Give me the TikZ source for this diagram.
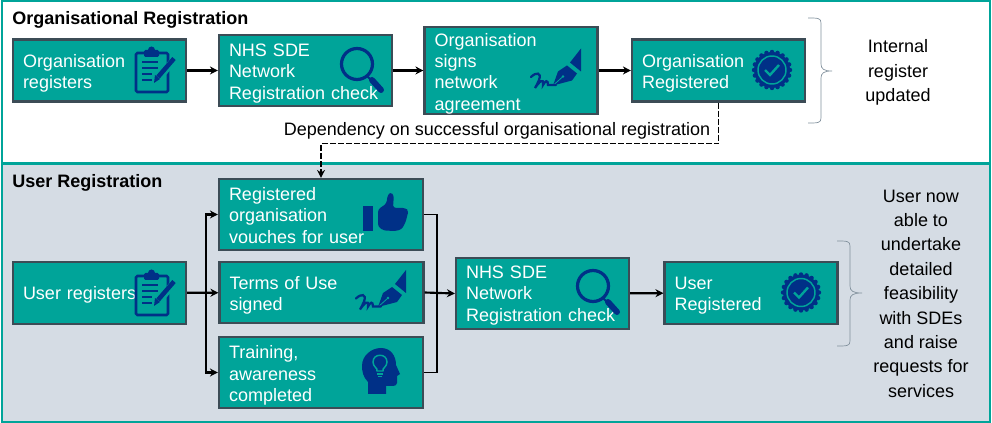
\documentclass[tikz,border=0pt]{standalone}
\usepackage{fontspec}
\setmainfont{Liberation Sans}
\usetikzlibrary{shapes,arrows,arrows.meta,positioning,calc}
\definecolor{tealcolor}{RGB}{0, 164, 153}
\definecolor{edgecolor}{RGB}{60, 76, 86}
\definecolor{iconcolor}{RGB}{0, 48, 135}
\definecolor{panelcolor}{RGB}{213, 220, 228}
\definecolor{bracecolor}{RGB}{130, 145, 157}

\tikzset{
    textdrop/.initial=4.5pt,
    clipicon/.pic={
        \draw[iconcolor, line width=1.9pt, rounded corners=1pt] (-19,-17) rectangle (13,22);
        \fill[iconcolor, rounded corners=1pt] (-11,-20) rectangle (4,-13);
        \fill[iconcolor] (-3.5,-20) circle (3.5);
        \foreach \liney/\linew in {-8/10, -2/10, 4/4, 10/4} {
            \draw[iconcolor, line width=1pt] (-13,\liney) -- ++(\linew+6,0);
        }
        \draw[tealcolor, line width=5.5pt] (1,11) -- (20,-11);
        \draw[iconcolor, line width=3.4pt] (3,7) -- (19,-11.5);
        \fill[iconcolor] (-1,13) -- (0,5) -- (5,9) -- cycle;
    },
    lensicon/.pic={
        \draw[iconcolor, line width=2.4pt] (-5,-6) circle (15.5);
        \draw[iconcolor, line width=1.5pt] (5,6) -- (10,11);
        \draw[iconcolor, line width=4.5pt, line cap=round] (10,10) -- (19,20);
    },
    penicon/.pic={
        \fill[iconcolor] (25,-21.5) -- (14,-7.5) -- (25,1.5) -- cycle;
        \fill[iconcolor] (11,-4.5) -- (21,3.5) -- (16,10.5) -- (-3,15.5) -- (2,1.5) -- cycle;
        \draw[tealcolor, line width=0.6pt] (-3,15.5) -- (7,6.5);
        \fill[tealcolor] (7,6.5) circle (1.4);
        \draw[iconcolor, line width=1.7pt, line cap=round] (-25,7) .. controls (-20,2) and (-14,2) .. (-17,10)
            .. controls (-18,13) and (-20,16) .. (-21,18) .. controls (-17,12) and (-12,7) .. (-13,15)
            .. controls (-11,11) and (-8,9) .. (-8,15) -- (0,15);
    },
    sealicon/.pic={
        \fill[iconcolor] (0,0) circle (18);
        \foreach \toothangle in {0,18,...,342} {
            \fill[iconcolor] (\toothangle:18) circle (2.2);
        }
        \draw[tealcolor, line width=1.1pt] (0,0) circle (14);
        \draw[tealcolor, line width=1.8pt] (-7,0) -- (-2,5) -- (7,-5);
    },
    thumbicon/.pic={
        \fill[iconcolor] (-22.5,-6) rectangle (-12.5,18.5);
        \fill[iconcolor, rounded corners=2pt] (-7.5,-3) -- (1,-9) -- (2,-17) -- (5,-20.5) -- (8.5,-17) -- (7.5,-7) -- (8,-4.5)
            -- (20,-4.5) -- (23,-1.5) -- (21.5,4) -- (20,10) -- (16,17) -- (10,18.5) -- (-2,18) -- (-7.5,14) -- cycle;
    },
    headicon/.pic={
        \fill[iconcolor] (-13,23) -- (-13,11) .. controls (-18,6) and (-19,0) .. (-19,-5)
            .. controls (-19,-16) and (-9,-23) .. (0,-23) .. controls (10,-23) and (15,-15) .. (15,-6)
            -- (19,3) -- (16,5) -- (16,12) .. controls (16,14) and (14,15) .. (12,15) -- (5,15) -- (5,23) -- cycle;
        \draw[tealcolor, line width=1.1pt] (-4,0) .. controls (-3,-3) and (-8,-4) .. (-8,-9)
            .. controls (-8,-18) and (6,-18) .. (6,-9) .. controls (6,-4) and (1,-3) .. (2,0) -- cycle;
        \draw[tealcolor, line width=1pt] (-4,3) -- (2,3) (-3,5.5) -- (1,5.5);
    }
}

\begin{document}
\begin{tikzpicture}[
        x=0.75pt, y=-0.75pt,
        font=\fontsize{13.5}{16}\selectfont,
        stepbox/.style={rectangle, draw=edgecolor, line width=1.6pt, fill=tealcolor, text=white, align=left,
            inner xsep=7.5pt, inner ysep=0pt, text width=114.75pt, minimum height=#1*0.75pt,
            execute at end node={\endgraf\vspace*{-\pgfkeysvalueof{/tikz/textdrop}}}},
        widebox/.style={stepbox=#1, text width=138pt},
        orgpanel/.style={rectangle, draw=tealcolor, line width=1.5pt, minimum width=741pt},
        heading/.style={font=\fontsize{13.5}{16}\selectfont\bfseries, inner sep=0pt},
        note/.style={align=center, font=\fontsize{13.5}{18.3}\selectfont, inner sep=0pt},
        arrow/.style={-{Stealth[length=6pt,width=6pt]}, line width=1.6pt},
        joinline/.style={line width=1.1pt},
        dashedarrow/.style={-{Stealth[length=6pt,width=6pt]}, line width=1.3pt, dash pattern=on 4.5pt off 1.5pt},
        bracket/.style={draw=bracecolor, line width=0.5pt}
    ]
        \useasboundingbox (0,0) rectangle (992,423);

        % Panels
        \node[orgpanel, fill=white, minimum height=121.5pt] (toppanel) at (496,82) {};
        \node[orgpanel, fill=panelcolor, minimum height=193.5pt] (lowpanel) at (496,293) {};
        \node[heading, anchor=west] (toptitle) at (12,19.5) {Organisational Registration};
        \node[heading, anchor=west] (lowtitle) at (12,182.5) {User Registration};

        % Organisation row
        \node[stepbox=62] (orgreg) at (99.5,70.5) {Organisation\\registers};
        \node[stepbox=71] (orgcheck) at (305.5,70.5) {NHS SDE\\Network\\Registration check};
        \node[stepbox=87] (orgsign) at (511,70.5) {Organisation\\signs\\network\\agreement};
        \node[stepbox=62] (orgdone) at (718.5,70.5) {Organisation\\Registered};
        \draw[arrow] (orgreg) -- (orgcheck);
        \draw[arrow] (orgcheck) -- (orgsign);
        \draw[arrow] (orgsign) -- (orgdone);

        % User row
        \node[stepbox=62] (userreg) at (99.5,293) {User registers};
        \node[widebox=71, textdrop=1.5pt] (vouch) at (321,214.5) {Registered\\organisation\\vouches for user};
        \node[widebox=61] (terms) at (321.5,292.5) {Terms of Use\\signed};
        \node[widebox=71] (training) at (321,372.5) {Training,\\awareness\\completed};
        \node[stepbox=71, textdrop=3pt] (usercheck) at (542.5,293.5) {NHS SDE\\Network\\Registration check};
        \node[stepbox=62] (userdone) at (751,293) {User\\Registered};

        \coordinate (split) at (206,293);
        \coordinate (merge) at (437,293);
        \draw[arrow] (userreg) -- (terms);
        \draw[arrow] (split) |- (vouch.west);
        \draw[arrow] (split) |- (training.west);
        \draw[joinline] (vouch.east) -| (merge);
        \draw[joinline] (training.east) -| (merge);
        \draw[arrow] (terms.east) -- (usercheck.west);
        \draw[arrow] (usercheck) -- (userdone);

        % Dependency
        \draw[dashedarrow] (orgdone.south) -- ++(0,41) -| (vouch.north);
        \node[inner sep=0pt] (deplabel) at (497,130.5) {Dependency on successful organisational registration};

        % Icons
        \pic at (155,70) {clipicon};
        \pic at (362,70) {lensicon};
        \pic at (556,70) {penicon};
        \pic at (772,70) {sealicon};
        \pic at (155,293) {clipicon};
        \pic at (385.5,212.5) {thumbicon};
        \pic at (381,291.5) {penicon};
        \pic at (381,371) {headicon};
        \pic at (598,292) {lensicon};
        \pic at (801,292.5) {sealicon};

        % Braces and outcomes
        \draw[bracket] (808,18) .. controls (818,18) and (821,18) .. (821,23) -- (821,64)
            .. controls (821,69) and (824,71) .. (832,71) .. controls (824,71) and (821,73) .. (821,78)
            -- (821,118) .. controls (821,123) and (818,123) .. (808,123);
        \draw[bracket] (837,241) .. controls (847,241) and (850,241) .. (850,246) -- (850,286)
            .. controls (850,291) and (853,293) .. (862,293) .. controls (853,293) and (850,295) .. (850,300)
            -- (850,341) .. controls (850,346) and (847,346) .. (837,346);
        \node[note] (topnote) at (898,72.5) {Internal\\register\\updated};
        \node[note] (lownote) at (921,293.5) {User now\\able to\\undertake\\detailed\\feasibility\\with SDEs\\and raise\\requests for\\services};
\end{tikzpicture}
\end{document}
